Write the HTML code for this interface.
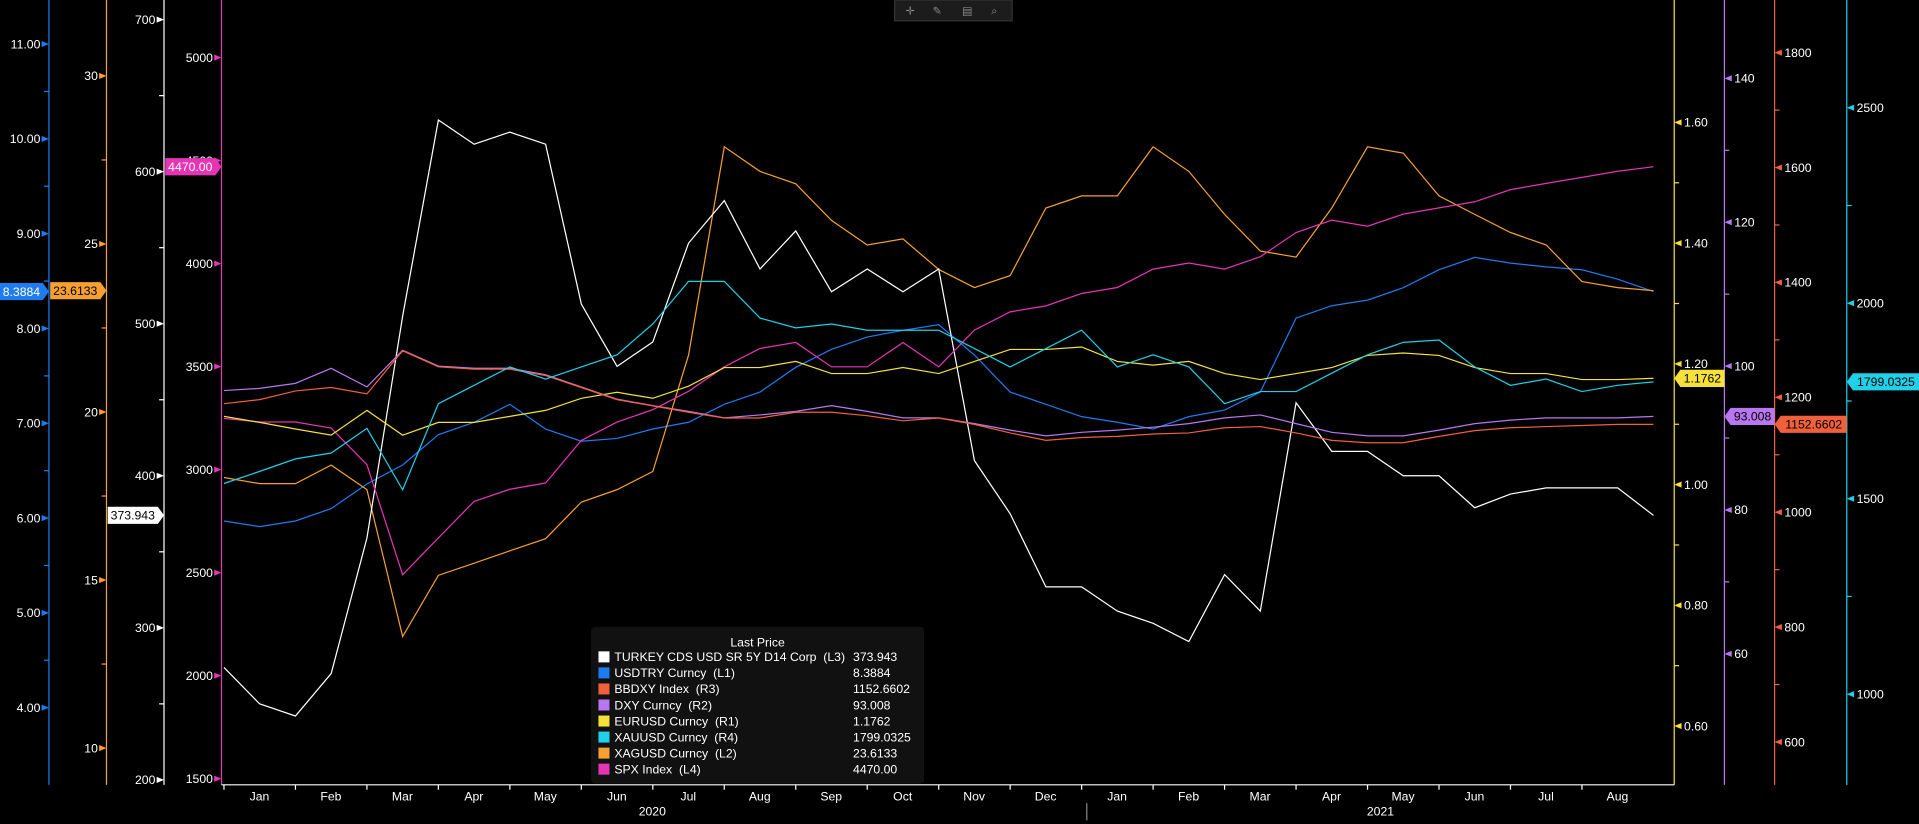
<!DOCTYPE html>
<html><head><meta charset="utf-8"><style>
html,body{margin:0;padding:0;background:#000;overflow:hidden}
svg{display:block}
text{font-family:"Liberation Sans","DejaVu Sans",sans-serif}
</style></head><body>
<svg id="chart" width="1919" height="824" viewBox="0 0 1568 673" preserveAspectRatio="none" xmlns="http://www.w3.org/2000/svg">
<rect x="0" y="0" width="1568" height="673" fill="#000"/>
<g id="toolbar">
<rect x="731" y="0" width="96" height="17" fill="#1c1c1c" stroke="#333"/>
<text x="740" y="12" font-size="9" fill="#888">✛</text>
<text x="762" y="12" font-size="9" fill="#888">✎</text>
<text x="786" y="12" font-size="9" fill="#888">▤</text>
<text x="810" y="12" font-size="9" fill="#888">⌕</text>
</g>
<g id="axes"></g>
<g id="series"></g>
<g id="tags"></g>
<g id="legend"></g>
</svg>
<script>
const categories = ["2020-01a","2020-01b","2020-02a","2020-02b","2020-03a","2020-03b","2020-04a","2020-04b","2020-05a","2020-05b","2020-06a","2020-06b","2020-07a","2020-07b","2020-08a","2020-08b","2020-09a","2020-09b","2020-10a","2020-10b","2020-11a","2020-11b","2020-12a","2020-12b","2021-01a","2021-01b","2021-02a","2021-02b","2021-03a","2021-03b","2021-04a","2021-04b","2021-05a","2021-05b","2021-06a","2021-06b","2021-07a","2021-07b","2021-08a","2021-08b","2021-08c"];
const cdsValues = [274,250,242,270,359,505,634,618,626,618,513,472,488,553,581,536,561,521,536,521,536,410,375,327,327,311,303,291,335,311,448,416,416,400,400,379,388,392,392,392,374];
const usdtryValues = [5.97,5.91,5.97,6.10,6.36,6.56,6.88,7.01,7.20,6.94,6.81,6.84,6.94,7.01,7.20,7.33,7.59,7.78,7.91,7.98,8.04,7.72,7.33,7.20,7.07,7.01,6.94,7.07,7.14,7.33,8.11,8.24,8.30,8.43,8.62,8.75,8.69,8.65,8.62,8.52,8.39];
const xagValues = [18.05,17.87,17.87,18.42,17.69,13.32,15.14,15.50,15.87,16.23,17.32,17.69,18.23,21.69,27.89,27.16,26.79,25.70,24.97,25.15,24.24,23.70,24.06,26.07,26.43,26.43,27.89,27.16,25.88,24.79,24.61,26.07,27.89,27.70,26.43,25.88,25.34,24.97,23.88,23.70,23.61];
const spxValues = [3249,3231,3231,3202,3024,2490,2668,2846,2905,2935,3142,3231,3291,3380,3499,3588,3617,3499,3499,3617,3499,3677,3766,3795,3855,3884,3973,4003,3973,4033,4151,4211,4181,4240,4270,4300,4359,4389,4418,4448,4470];
const eurusdValues = [1.113,1.103,1.092,1.082,1.123,1.082,1.103,1.103,1.113,1.123,1.143,1.153,1.143,1.163,1.194,1.194,1.204,1.184,1.184,1.194,1.184,1.204,1.224,1.224,1.228,1.204,1.198,1.204,1.184,1.174,1.184,1.194,1.214,1.218,1.214,1.194,1.184,1.184,1.174,1.174,1.176];
const dxyValues = [96.6,96.9,97.6,99.7,97.1,102.2,100,99.7,99.7,98.8,97.1,95.4,94.5,93.7,92.8,93.2,93.7,94.5,93.7,92.8,92.8,92.0,91.1,90.3,90.8,91.1,91.5,92.0,92.8,93.2,92.0,90.8,90.3,90.3,91.1,92.0,92.5,92.8,92.8,92.8,93.0];
const bbdxyValues = [1189,1196,1211,1217,1206,1281,1253,1249,1249,1238,1217,1196,1185,1174,1164,1164,1174,1174,1168,1159,1164,1153,1138,1125,1130,1132,1136,1138,1147,1149,1138,1125,1121,1121,1132,1142,1147,1149,1151,1153,1153];
const xauValues = [1539,1570,1602,1617,1680,1523,1743,1790,1837,1806,1837,1868,1947,2056,2056,1962,1937,1947,1931,1931,1931,1884,1837,1884,1931,1837,1868,1837,1743,1774,1774,1821,1868,1900,1906,1837,1790,1806,1774,1790,1799];
const usdtryTicks = ["4.00","5.00","6.00","7.00","8.00","9.00","10.00","11.00"];
const xagTicks = ["10","15","20","25","30"];
const cdsTicks = ["200","300","400","500","600","700"];
const spxTicks = ["1500","2000","2500","3000","3500","4000","4500","5000"];
const eurTicks = ["0.60","0.80","1.00","1.20","1.40","1.60"];
const dxyTicks = ["60","80","100","120","140"];
const bbTicks = ["600","800","1000","1200","1400","1600","1800"];
const xauTicks = ["1000","1500","2000","2500"];
const monthLabels = ["Jan","Feb","Mar","Apr","May","Jun","Jul","Aug","Sep","Oct","Nov","Dec","Jan","Feb","Mar","Apr","May","Jun","Jul","Aug"];
const yearLabels = ["2020","2021"];

const NS="http://www.w3.org/2000/svg";
function mk(tag,attrs,parent,txt){const e=document.createElementNS(NS,tag);for(const k in attrs)e.setAttribute(k,attrs[k]);if(txt!==undefined)e.textContent=txt;parent.appendChild(e);return e;}
function lin(v0,y0,v1,y1){return v=>y0+(v-v0)*(y1-y0)/(v1-v0);}
const xScale=i=>183+i*(1351-183)/(categories.length-1);
const axes=[
 {name:"usdtry",color:"#1e7bf0",x:40,side:"L",ticks:usdtryTicks,minor:true,y:lin(4,578,11,36),vals:usdtryValues,tag:"8.3884",tagTxt:"#fff",leg:"USDTRY Curncy  (L1)"},
 {name:"xag",color:"#f5a030",x:87,side:"L",ticks:xagTicks,minor:true,y:lin(10,611,30,62),vals:xagValues,tag:"23.6133",tagTxt:"#000",leg:"XAGUSD Curncy  (L2)"},
 {name:"cds",color:"#ffffff",x:134,side:"L",ticks:cdsTicks,minor:true,y:lin(200,637,700,16),vals:cdsValues,tag:"373.943",tagTxt:"#000",leg:"TURKEY CDS USD SR 5Y D14 Corp  (L3)"},
 {name:"spx",color:"#e535b5",x:181,side:"L",ticks:spxTicks,minor:false,y:lin(1500,636,5000,47),vals:spxValues,tag:"4470.00",tagTxt:"#fff",leg:"SPX Index  (L4)"},
 {name:"eurusd",color:"#f5e13a",x:1368,side:"R",ticks:eurTicks,minor:true,y:lin(0.6,593,1.6,100),vals:eurusdValues,tag:"1.1762",tagTxt:"#000",leg:"EURUSD Curncy  (R1)"},
 {name:"dxy",color:"#b877f0",x:1409,side:"R",ticks:dxyTicks,minor:true,y:lin(60,534,140,64),vals:dxyValues,tag:"93.008",tagTxt:"#000",leg:"DXY Curncy  (R2)"},
 {name:"bbdxy",color:"#f0603a",x:1450,side:"R",ticks:bbTicks,minor:true,y:lin(600,606,1800,43),vals:bbdxyValues,tag:"1152.6602",tagTxt:"#000",leg:"BBDXY Index  (R3)"},
 {name:"xau",color:"#20d0e8",x:1509,side:"R",ticks:xauTicks,minor:true,y:lin(1000,567,2500,88),vals:xauValues,tag:"1799.0325",tagTxt:"#000",leg:"XAUUSD Curncy  (R4)"}
];
const gA=document.getElementById('axes'),gS=document.getElementById('series'),gT=document.getElementById('tags'),gL=document.getElementById('legend');
axes.forEach(a=>{
 const ln=mk('line',{x1:a.x,y1:0,x2:a.x,y2:641,stroke:a.color,'stroke-width':1},gA);
 
 
 a.ticks.forEach((t,i)=>{
  const v=parseFloat(t),y=a.y(v);
  const d=a.side==="L"?`M${a.x} ${y} l-6 -2.5 v5 z`:`M${a.x} ${y} l6 -2.5 v5 z`;
  mk('path',{d:d,fill:a.color},gA);
  const tx=mk('text',{x:a.side==="L"?a.x-7:a.x+8,y:y+3.5,'font-size':10,fill:'#fff','text-anchor':a.side==="L"?'end':'start'},gA,t);
  
  
  if(a.minor&&i<a.ticks.length-1){const ym=(y+a.y(parseFloat(a.ticks[i+1])))/2;mk('line',{x1:a.x,x2:a.side==="L"?a.x-4:a.x+4,y1:ym,y2:ym,stroke:a.color},gA);}
 });
 const pts=a.vals.map((v,i)=>xScale(i).toFixed(1)+','+a.y(v).toFixed(1)).join(' ');
 const pl=mk('polyline',{points:pts,fill:'none',stroke:a.color,'stroke-width':1},gS);
 
 
 const ty=a.y(a.vals[a.vals.length-1]);
 const prev=axes[axes.indexOf(a)-1];
 let d,tx;
 if(a.side==="L"){const l=prev&&prev.side==="L"?prev.x+1:0;d=`M${l} ${ty-7} H${a.x-5} L${a.x} ${ty} L${a.x-5} ${ty+7} H${l} z`;tx=(l+a.x-5)/2;}
 else{const nx=axes[axes.indexOf(a)+1];const r=nx?nx.x:1568;d=`M${a.x} ${ty} L${a.x+5} ${ty-7} H${r} V${ty+7} H${a.x+5} z`;tx=(a.x+5+r)/2;}
 const tg=mk('path',{d:d,fill:a.color},gT);
 
 
 mk('text',{x:tx,y:ty+3.5,'font-size':10,fill:a.tagTxt,'text-anchor':'middle'},gT,a.tag);
});
// x axis
mk('line',{x1:181,y1:641,x2:1368,y2:641,stroke:'#fff'},gA);
monthLabels.forEach((m,i)=>{
 const x0=183+i*58.4;
 mk('line',{x1:x0,y1:641,x2:x0,y2:645,stroke:'#fff'},gA);
 const t=mk('text',{x:x0+29,y:654,'font-size':10,fill:'#fff','text-anchor':'middle'},gA,m);
 
 
});
mk('line',{x1:888,y1:656,x2:888,y2:670,stroke:'#888'},gA);
[533,1128].forEach((x,i)=>{const t=mk('text',{x:x,y:666,'font-size':10,fill:'#fff','text-anchor':'middle'},gA,yearLabels[i]);
 
 });
// legend
mk('rect',{x:483,y:512,width:272,height:128,fill:'#111',rx:3},gL);
mk('text',{x:619,y:528,'font-size':10,fill:'#fff','text-anchor':'middle'},gL,'Last Price');
const order=[2,0,6,5,4,7,1,3];
order.forEach((k,i)=>{const a=axes[k];const y=540+i*13.1;
 const r=mk('rect',{x:489,y:y-8,width:9,height:9,fill:a.color},gL);
 
 
 mk('text',{x:502,y:y,'font-size':10,fill:'#fff'},gL,a.leg.replace(/  /g,'\u00a0\u00a0'));
 mk('text',{x:697,y:y,'font-size':10,fill:'#fff'},gL,a.tag);
});
</script>
</body></html>
